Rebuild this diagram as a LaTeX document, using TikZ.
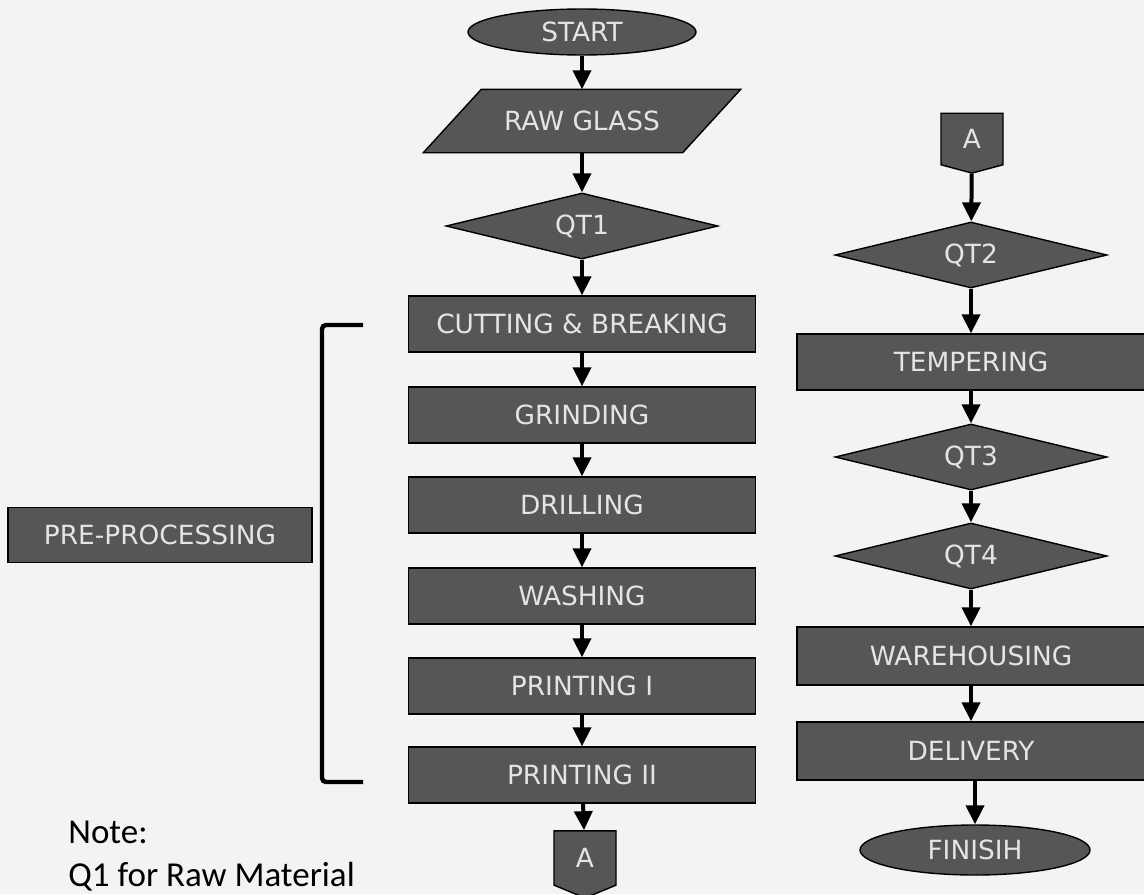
\documentclass[tikz,border=0pt]{standalone}
\usepackage{fontspec}
\setmainfont{DejaVu Sans}
\newfontfamily\notefont{Carlito}
\usetikzlibrary{calc,shapes.geometric,shapes.symbols,arrows.meta}
\definecolor{boxgray}{RGB}{86,86,86}
\definecolor{boxtext}{RGB}{228,228,228}
\definecolor{paper}{RGB}{243,243,243}
\tikzset{
  flowbox/.style={draw=black, line width=0.7pt, fill=boxgray, text=boxtext,
    font=\fontsize{13.2}{15}\selectfont, inner sep=0pt},
  procbox/.style={flowbox, rectangle, minimum width=173.5pt, minimum height=28pt},
  termbox/.style={flowbox, ellipse, minimum width=114pt, minimum height=23pt},
  inputbox/.style={flowbox, draw=none, fill=none, rectangle,
    minimum width=129pt, minimum height=31pt},
  checkbox/.style={flowbox, diamond, aspect=4.1, minimum width=136pt,
    minimum height=33pt},
  pagelink/.style={flowbox, signal, signal to=south, signal pointer angle=135,
    minimum width=31pt, minimum height=29pt},
  flow/.style={line width=2pt, -{Triangle[length=9.5pt,width=9pt]}},
  bracket/.style={line width=2.2pt, rounded corners=2pt}
}
\def\Step#1#2#3{%
  \node[procbox] (#1) at (#2) {#3};
}

\begin{document}
\begin{tikzpicture}[x=0.5pt, y=-0.5pt]
\useasboundingbox (0,0) rectangle (1144,894);
\fill[paper] (0,0) rectangle (1144,894);

% left column
\node[termbox] (start) at (582,32) {START};
\node[inputbox] (raw) at (582,121) {};
\filldraw[fill=boxgray, draw=black, line width=0.7pt]
  ($(raw.south west)+(-29,0)$) -- ($(raw.south east)+(-29,0)$)
  -- ($(raw.north east)+(29,0)$) -- ($(raw.north west)+(29,0)$) -- cycle;
\node[inputbox] at (raw) {RAW GLASS};
\node[checkbox] (qt1) at (582,226) {QT1};
\Step{cut}{582,324}{CUTTING \& BREAKING}
\Step{grind}{582,415}{GRINDING}
\Step{drill}{582,505}{DRILLING}
\Step{wash}{582,596}{WASHING}
\Step{prt1}{582,686}{PRINTING I}
\Step{prt2}{582,775}{PRINTING II}
\node[pagelink] (aout) at (585,858) {A};

% right column
\node[pagelink, signal pointer angle=150, minimum height=27pt] (ain) at (972,139) {A};
\node[checkbox] (qt2) at (971,255) {QT2};
\node[procbox, minimum width=174pt] (temper) at (971,362) {TEMPERING};
\node[checkbox] (qt3) at (971,457) {QT3};
\node[checkbox] (qt4) at (971,556) {QT4};
\node[procbox, minimum width=174pt, minimum height=29pt] (store) at (971,656) {WAREHOUSING};
\node[procbox, minimum width=174pt, minimum height=29pt] (deliver) at (971,751) {DELIVERY};
\node[termbox, minimum width=115pt, minimum height=25pt] (finish) at (975,850) {FINISIH};

\foreach \a/\b in {start/raw, raw/qt1, qt1/cut, cut/grind, grind/drill,
    drill/wash, wash/prt1, prt1/prt2, prt2/aout,
    ain/qt2, qt2/temper, temper/qt3, qt3/qt4, qt4/store, store/deliver}
  \draw[flow] (\a) -- (\b);
\draw[flow] (deliver.south -| finish) -- (finish);

% grouping
\node[flowbox, rectangle, minimum width=152pt, minimum height=27.5pt] (pre) at (160,535) {PRE-PROCESSING};
\draw[bracket] (363,325) -- (322,325) -- (322,782) -- (363,782);

\node[font=\notefont\fontsize{17.5}{21.5}\selectfont, anchor=base west,
  align=left, inner sep=0pt] (note) at (68,886) {Note:\\Q1 for Raw Material};
\end{tikzpicture}
\end{document}
